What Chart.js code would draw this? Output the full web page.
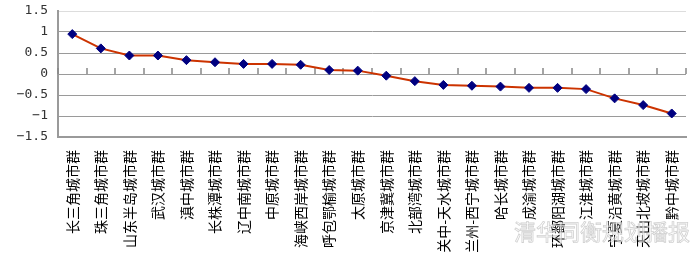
<!DOCTYPE html>
<html>
<head>
<meta charset="utf-8">
<script src="https://cdn.jsdelivr.net/npm/chart.js@4/dist/chart.umd.min.js"></script>
<style>
  html, body { margin: 0; padding: 0; background: #fff; }
  #wrap { position: relative; width: 700px; height: 259px; }
  #mark {
    position: absolute; left: 514px; top: 214px;
    font: 22px "Noto Sans CJK SC", sans-serif;
    white-space: nowrap;
    color: rgba(255,255,255,0.6);
    -webkit-text-stroke: 0.8px rgba(170,170,170,0.55);
    pointer-events: none;
  }
</style>
</head>
<body>
<div id="wrap">
  <canvas id="c" width="700" height="259"></canvas>
  <div id="mark">清华同衡规划播报</div>
</div>
<script>
// urban agglomerations, sorted by score
const cities = [
  '长三角城市群', '珠三角城市群', '山东半岛城市群', '武汉城市群', '滇中城市群',
  '长株潭城市群', '辽中南城市群', '中原城市群', '海峡西岸城市群', '呼包鄂榆城市群',
  '太原城市群', '京津冀城市群', '北部湾城市群', '关中-天水城市群', '兰州-西宁城市群',
  '哈长城市群', '成渝城市群', '环鄱阳湖城市群', '江淮城市群', '宁夏沿黄城市群',
  '天山北坡城市群', '黔中城市群'
];

const scores = [
  0.95, 0.61, 0.44, 0.44, 0.33, 0.28, 0.24, 0.24, 0.22, 0.095, 0.08,
  -0.04, -0.17, -0.26, -0.28, -0.30, -0.33, -0.33, -0.36, -0.58, -0.74, -0.94
];

const yMin = -1.5;
const yMax = 1.5;
const yStep = 0.5;

const gray = '#9a9a9a';

// small tick marks on the zero line, between categories
const zeroTicks = {
  id: 'zeroTicks',
  beforeDatasetsDraw(chart) {
    const x = chart.scales.x, y = chart.scales.y;
    const y0 = Math.round(y.getPixelForValue(0));
    const ctx = chart.ctx;
    ctx.save();
    ctx.strokeStyle = '#888';
    ctx.lineWidth = 1.5;
    ctx.beginPath();
    for (let i = 0; i <= cities.length; i++) {
      const px = Math.round(x.getPixelForValue(i - 0.5));
      ctx.moveTo(px, y0);
      ctx.lineTo(px, y0 - 6);
    }
    ctx.stroke();
    ctx.restore();
  }
};

new Chart(document.getElementById('c'), {
  type: 'line',
  data: {
    labels: cities,
    datasets: [{
      data: scores,
      borderColor: '#cc3300',
      borderWidth: 2,
      tension: 0,
      pointStyle: 'rectRot',
      pointRadius: 4.5,
      pointBackgroundColor: '#000080',
      pointBorderColor: '#000080',
      pointBorderWidth: 1
    }]
  },
  options: {
    responsive: false,
    animation: false,
    layout: { padding: { top: 11, right: 14, left: 0, bottom: 0 } },
    plugins: { legend: { display: false }, tooltip: { enabled: false } },
    scales: {
      x: {
        offset: true,
        grid: { display: false },
        border: { color: gray, width: 2 },
        ticks: {
          autoSkip: false,
          minRotation: 90,
          maxRotation: 90,
          padding: 5,
          color: '#000',
          font: { family: '"Noto Sans CJK SC"', size: 14 }
        },
        afterFit: s => { s.height = 122; s.paddingLeft = 0; s.paddingRight = 0; }
      },
      y: {
        min: yMin,
        max: yMax,
        ticks: {
          stepSize: yStep,
          padding: 10,
          color: '#333',
          font: { family: '"DejaVu Sans Mono"', size: 13 },
          callback: v => String(v).replace('-', '\u2212')
        },
        grid: {
          drawTicks: false,
          color: c => c.tick && c.tick.value === yMax ? '#dddddd' : gray,
          lineWidth: 1
        },
        border: { color: gray, width: 2 },
        afterFit: s => { s.width = 58; s.paddingTop = 0; s.paddingBottom = 0; }
      }
    }
  },
  plugins: [zeroTicks]
});
</script>
</body>
</html>
